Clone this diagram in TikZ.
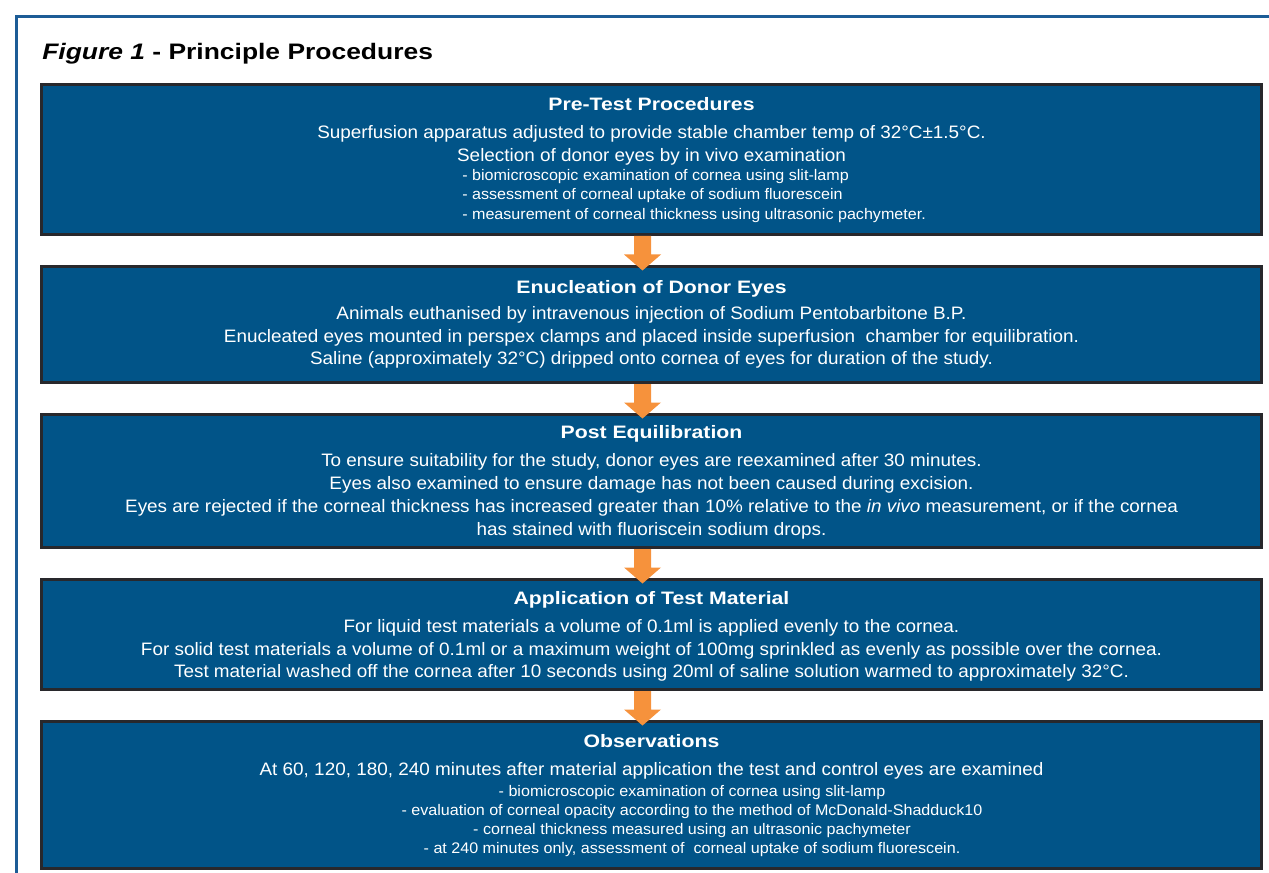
\documentclass[tikz,border=0pt]{standalone}
\usepackage{fontspec}
\setmainfont{Liberation Sans}
\newfontfamily\bodyfont[FakeStretch=1.05]{Liberation Sans}
\newfontfamily\widefont[FakeStretch=1.18]{Liberation Sans}
\usetikzlibrary{calc}

\definecolor{boxblue}{RGB}{1,84,136}
\definecolor{boxedge}{RGB}{40,40,44}
\definecolor{framblue}{RGB}{28,92,150}
\definecolor{arrorange}{RGB}{246,146,60}

\tikzset{
  stepbox/.style={draw=boxedge, line width=2.25pt, fill=boxblue, minimum width=915pt},
  headtext/.style={text=white, inner sep=0pt, anchor=base, font=\widefont\bfseries\fontsize{13.5}{16}\selectfont},
  bodytext/.style={text=white, inner sep=0pt, align=center, font=\bodyfont\fontsize{13.5}{17.1}\selectfont},
  smalltext/.style={text=white, inner sep=0pt, font=\bodyfont\fontsize{11.5}{14.3}\selectfont},
  flowarrow/.style={fill=arrorange}
}

\begin{document}
\begin{tikzpicture}[x=0.75pt,y=0.75pt,yscale=-1,xscale=1]
\useasboundingbox (0,0) rectangle (1269,873);

%Shape: Frame
\draw [color=framblue, line width=1.9pt] (1269,16.5) -- (16.5,16.5) -- (16.5,873);

% Text Node
\node [anchor=base west, inner sep=0pt, font=\widefont\bfseries\fontsize{16.8}{20}\selectfont] (title) at (42,59.5) {\textit{Figure 1} - Principle Procedures};

%Shape: Rectangle
\node [stepbox, minimum height=112.5pt] (b1) at (651.5,159.5) {};
\node [stepbox, minimum height=87pt] (b2) at (651.5,324.5) {};
\node [stepbox, minimum height=99.75pt] (b3) at (651.5,481) {};
\node [stepbox, minimum height=82.5pt] (b4) at (651.5,634.5) {};
\node [stepbox, minimum height=110.25pt] (b5) at (651.5,795) {};

% Text Node
\node [headtext] (h1) at (651.5,110.5) {Pre-Test Procedures};
\node [bodytext] (t1) at (651.5,145) {Superfusion apparatus adjusted to provide stable chamber temp of 32°C±1.5°C.\\Selection of donor eyes by in vivo examination};
\node [smalltext, align=left, anchor=west] (s1) at (462,196) {- biomicroscopic examination of cornea using slit-lamp\\- assessment of corneal uptake of sodium fluorescein\\- measurement of corneal thickness using ultrasonic pachymeter.};

% Text Node
\node [headtext] (h2) at (651.5,293.5) {Enucleation of Donor Eyes};
\node [bodytext] (t2) at (651.5,337.5) {Animals euthanised by intravenous injection of Sodium Pentobarbitone B.P.\\Enucleated eyes mounted in perspex clamps and placed inside superfusion\ \ chamber for equilibration.\\Saline (approximately 32°C) dripped onto cornea of eyes for duration of the study.};

% Text Node
\node [headtext] (h3) at (651.5,438.5) {Post Equilibration};
\node [bodytext] (t3) at (651.5,496.5) {To ensure suitability for the study, donor eyes are reexamined after 30 minutes.\\Eyes also examined to ensure damage has not been caused during excision.\\Eyes are rejected if the corneal thickness has increased greater than 10\% relative to the \textit{in vivo} measurement, or if the cornea\\has stained with fluoriscein sodium drops.};

% Text Node
\node [headtext] (h4) at (651.5,604.5) {Application of Test Material};
\node [bodytext] (t4) at (651.5,650.5) {For liquid test materials a volume of 0.1ml is applied evenly to the cornea.\\For solid test materials a volume of 0.1ml or a maximum weight of 100mg sprinkled as evenly as possible over the cornea.\\Test material washed off the cornea after 10 seconds using 20ml of saline solution warmed to approximately 32°C.};

% Text Node
\node [headtext] (h5) at (651.5,747.5) {Observations};
\node [bodytext] (t5) at (651.5,771) {At 60, 120, 180, 240 minutes after material application the test and control eyes are examined};
\node [smalltext, align=center] (s5) at (692,821) {- biomicroscopic examination of cornea using slit-lamp\\- evaluation of corneal opacity according to the method of McDonald-Shadduck10\\- corneal thickness measured using an ultrasonic pachymeter\\- at 240 minutes only, assessment of\ \ corneal uptake of sodium fluorescein.};

%Shape: Arrows
\foreach \a/\b in {b1/b2, b2/b3, b3/b4, b4/b5}
  \fill [flowarrow] ($(\a.south)+(-17.5,0)$) -- ($(\a.south)+(-0.5,0)$) -- ($(\a.south)+(-0.5,18.5)$) -- ($(\a.south)+(9.5,18.5)$)
    -- ($(\b.north)+(-9,5.5)$) -- ($(\a.south)+(-27.5,18.5)$) -- ($(\a.south)+(-17.5,18.5)$) -- cycle;

\end{tikzpicture}
\end{document}
